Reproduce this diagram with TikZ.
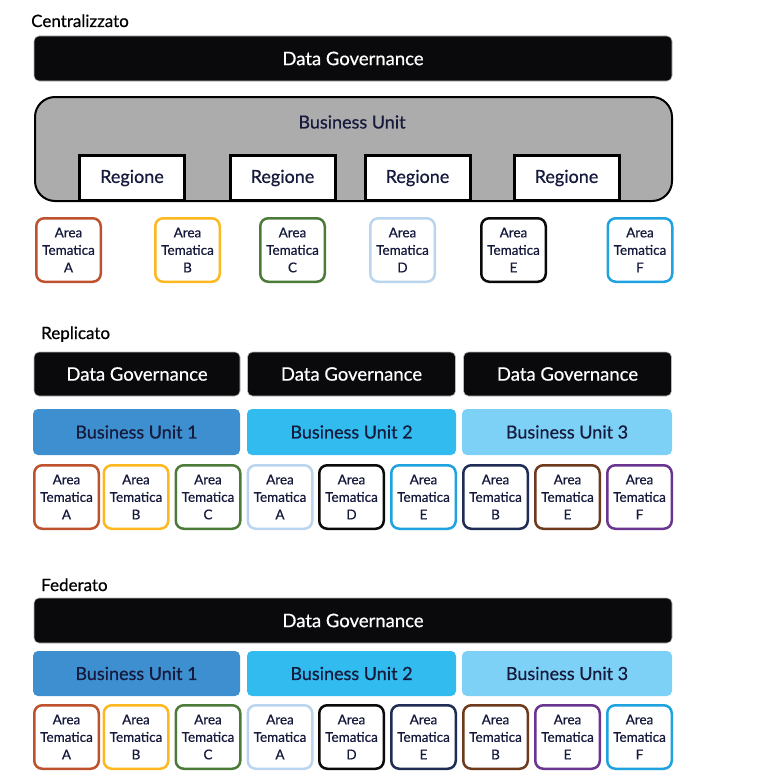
\documentclass[tikz,border=0pt]{standalone}
\usepackage{fontspec}
\setmainfont{Lato}[FakeBold=0.6]
\definecolor{dgblack}{RGB}{10,10,12}
\definecolor{txtnavy}{RGB}{22,26,60}
\definecolor{greybu}{RGB}{172,172,172}
\definecolor{bu1}{RGB}{61,143,208}
\definecolor{bu2}{RGB}{49,187,238}
\definecolor{bu3}{RGB}{125,209,246}
\definecolor{cA}{RGB}{190,82,45}
\definecolor{cB}{RGB}{252,184,30}
\definecolor{cC}{RGB}{76,122,56}
\definecolor{cD}{RGB}{186,214,238}
\definecolor{cE}{RGB}{10,10,10}
\definecolor{cF}{RGB}{30,162,224}
\definecolor{cNavy}{RGB}{31,45,85}
\definecolor{cBrown}{RGB}{110,58,30}
\definecolor{cPurple}{RGB}{106,53,145}
\tikzset{
  dgbox/.style={fill=dgblack, draw=gray!55, line width=0.6pt, rounded corners=5pt,
    text=white, font=\fontsize{18.5}{20}\selectfont, inner sep=0pt},
  bubox/.style={rounded corners=5pt, inner sep=0pt, text=txtnavy,
    font=\fontsize{18}{20}\selectfont, minimum height=45pt},
  areabox/.style={draw=#1, fill=white, line width=2.5pt, rounded corners=8pt,
    minimum width=64.5pt, minimum height=63.5pt, align=center, inner sep=0pt,
    font=\fontsize{13.5}{17.5}\selectfont, text=txtnavy},
  regbox/.style={draw=black, fill=white, line width=3pt, minimum width=105pt,
    minimum height=45pt, inner sep=0pt, text=txtnavy, font=\fontsize{18}{20}\selectfont},
  ttl/.style={anchor=base west, inner sep=0pt, font=\fontsize{17}{20}\selectfont, text=black},
  lbl/.style={inner sep=0pt, text=txtnavy, font=\fontsize{18}{20}\selectfont}
}
\begin{document}
\begin{tikzpicture}[x=1pt,y=-1pt]
\useasboundingbox (0,0) rectangle (764,784);

% ---------------- Centralizzato ----------------
\node[ttl] (t1) at (31,27) {Centralizzato};
\node[dgbox, minimum width=638pt, minimum height=45pt] (cdg) at (353,58.5) {Data Governance};
\node[draw=black, fill=greybu, line width=2pt, rounded corners=20pt,
      minimum width=637pt, minimum height=104pt, inner sep=0pt] (cbu) at (353.5,149) {};
\node[lbl] (cbut) at (352,122) {Business Unit};
\node[regbox] (r1) at (132,178) {Regione};
\node[regbox] (r2) at (282.5,178) {Regione};
\node[regbox] (r3) at (417.5,178) {Regione};
\node[regbox] (r4) at (566.5,178) {Regione};
\node[areabox=cA] (ca) at (68.5,250) {Area\\Tematica\\A};
\node[areabox=cB] (cb) at (187.5,250) {Area\\Tematica\\B};
\node[areabox=cC] (cc) at (292.5,250) {Area\\Tematica\\C};
\node[areabox=cD] (cd) at (402.5,250) {Area\\Tematica\\D};
\node[areabox=cE] (ce) at (513.5,250) {Area\\Tematica\\E};
\node[areabox=cF] (cf) at (640,250) {Area\\Tematica\\F};

% ---------------- Replicato ----------------
\node[ttl] (t2) at (41,339) {Replicato};
\node[dgbox, minimum width=206pt, minimum height=44pt] (rdg1) at (137,374) {Data Governance};
\node[dgbox, minimum width=208pt, minimum height=44pt] (rdg2) at (351.5,374) {Data Governance};
\node[dgbox, minimum width=208pt, minimum height=44pt] (rdg3) at (567.5,374) {Data Governance};
\node[bubox, fill=bu1, minimum width=207pt, minimum height=46pt] (rbu1) at (136.5,432) {Business Unit 1};
\node[bubox, fill=bu2, minimum width=209pt, minimum height=46pt] (rbu2) at (351.5,432) {Business Unit 2};
\node[bubox, fill=bu3, minimum width=210pt, minimum height=46pt] (rbu3) at (567,432) {Business Unit 3};
\node[areabox=cA] (ra1) at (66.5,497) {Area\\Tematica\\A};
\node[areabox=cB] (ra2) at (136,497) {Area\\Tematica\\B};
\node[areabox=cC] (ra3) at (208,497) {Area\\Tematica\\C};
\node[areabox=cD] (ra4) at (280,497) {Area\\Tematica\\A};
\node[areabox=cE] (ra5) at (351.5,497) {Area\\Tematica\\D};
\node[areabox=cF] (ra6) at (423.5,497) {Area\\Tematica\\E};
\node[areabox=cNavy] (ra7) at (495.5,497) {Area\\Tematica\\B};
\node[areabox=cBrown] (ra8) at (567.5,497) {Area\\Tematica\\E};
\node[areabox=cPurple] (ra9) at (639.5,497) {Area\\Tematica\\F};

% ---------------- Federato ----------------
\node[ttl] (t3) at (41,591) {Federato};
\node[dgbox, minimum width=638pt, minimum height=45pt] (fdg) at (353,620.5) {Data Governance};
\node[bubox, fill=bu1, minimum width=207pt] (fbu1) at (136.5,673.5) {Business Unit 1};
\node[bubox, fill=bu2, minimum width=209pt] (fbu2) at (351.5,673.5) {Business Unit 2};
\node[bubox, fill=bu3, minimum width=210pt] (fbu3) at (567,673.5) {Business Unit 3};
\node[areabox=cA] (fa1) at (66.5,737) {Area\\Tematica\\A};
\node[areabox=cB] (fa2) at (136,737) {Area\\Tematica\\B};
\node[areabox=cC] (fa3) at (208,737) {Area\\Tematica\\C};
\node[areabox=cD] (fa4) at (280,737) {Area\\Tematica\\A};
\node[areabox=cE] (fa5) at (351.5,737) {Area\\Tematica\\D};
\node[areabox=cNavy] (fa6) at (423.5,737) {Area\\Tematica\\E};
\node[areabox=cBrown] (fa7) at (495.5,737) {Area\\Tematica\\B};
\node[areabox=cPurple] (fa8) at (567.5,737) {Area\\Tematica\\E};
\node[areabox=cF] (fa9) at (639.5,737) {Area\\Tematica\\F};
\end{tikzpicture}
\end{document}
